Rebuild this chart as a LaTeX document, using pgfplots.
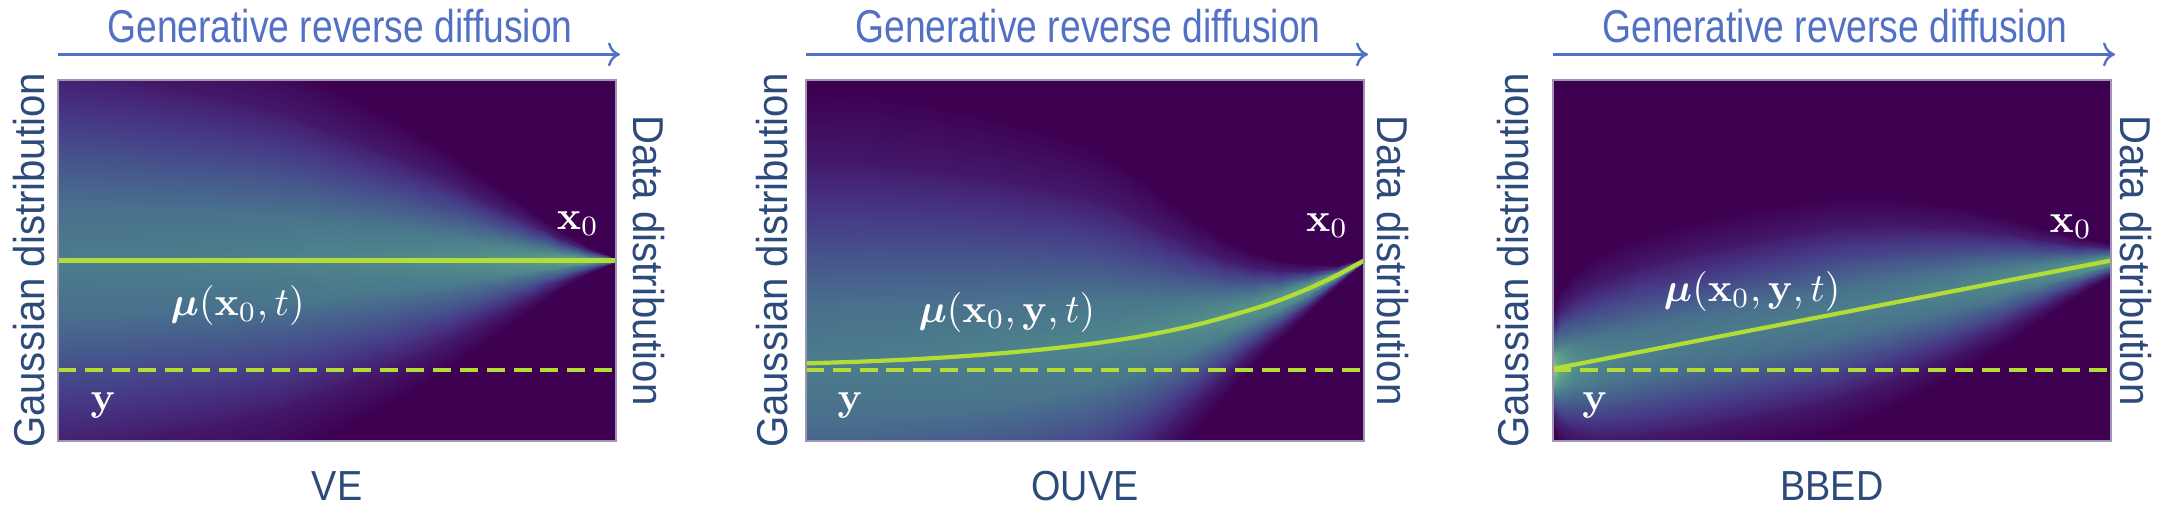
\documentclass[border=0pt]{standalone}
\usepackage[no-math]{fontspec}
\usepackage{amsmath}
\usepackage{bm}
\usepackage{pgfplots}
\usepackage{pgfplotstable}
\pgfplotsset{compat=1.18}
\usetikzlibrary{arrows.meta}
\newfontfamily\lsanstop[FakeStretch=0.81]{Liberation Sans}
\newfontfamily\lsansside[FakeStretch=0.93]{Liberation Sans}
\newfontfamily\lsansbot[FakeStretch=0.9]{Liberation Sans}
\definecolor{bgp}{RGB}{62,1,82}
\definecolor{ln}{RGB}{180,220,54}
\definecolor{tblue}{RGB}{82,113,196}
\definecolor{tdark}{RGB}{45,75,122}
\definecolor{frm}{RGB}{160,148,180}
\pgfplotsset{colormap={rs}{rgb255(0cm)=(62,1,82) rgb255(12cm)=(69,33,114) rgb255(25cm)=(70,58,134) rgb255(38cm)=(70,84,140) rgb255(50cm)=(72,106,141) rgb255(60cm)=(75,124,140) rgb255(70cm)=(84,146,138) rgb255(80cm)=(100,170,134) rgb255(90cm)=(140,200,110) rgb255(100cm)=(181,222,43)}}

% VE: columns of the density band (x, y, colour value)
\pgfplotstableread{
x y c
0 -0.216 0
0 -0.030 0.084
0 0.155 0.300
0 0.341 0.522
0 0.500 0.600
0 0.659 0.522
0 0.845 0.300
0 1.030 0.084
0 1.216 0
0.1 -0.189 0
0.1 -0.010 0.085
0.1 0.168 0.303
0.1 0.347 0.526
0.1 0.500 0.605
0.1 0.653 0.526
0.1 0.832 0.303
0.1 1.010 0.085
0.1 1.189 0
0.2 -0.148 0
0.2 0.020 0.085
0.2 0.188 0.305
0.2 0.356 0.531
0.2 0.500 0.610
0.2 0.644 0.531
0.2 0.812 0.305
0.2 0.980 0.085
0.2 1.148 0
0.3 -0.108 0
0.3 0.050 0.087
0.3 0.207 0.310
0.3 0.365 0.539
0.3 0.500 0.620
0.3 0.635 0.539
0.3 0.793 0.310
0.3 0.950 0.087
0.3 1.108 0
0.4 -0.054 0
0.4 0.090 0.088
0.4 0.233 0.315
0.4 0.377 0.548
0.4 0.500 0.630
0.4 0.623 0.548
0.4 0.767 0.315
0.4 0.910 0.088
0.4 1.054 0
0.5 0.027 0
0.5 0.150 0.090
0.5 0.272 0.323
0.5 0.395 0.561
0.5 0.500 0.645
0.5 0.605 0.561
0.5 0.728 0.323
0.5 0.850 0.090
0.5 0.973 0
0.55 0.068 0
0.55 0.180 0.091
0.55 0.292 0.325
0.55 0.404 0.566
0.55 0.500 0.650
0.55 0.596 0.566
0.55 0.708 0.325
0.55 0.820 0.091
0.55 0.932 0
0.6 0.108 0
0.6 0.210 0.092
0.6 0.311 0.330
0.6 0.413 0.574
0.6 0.500 0.660
0.6 0.587 0.574
0.6 0.689 0.330
0.6 0.790 0.092
0.6 0.892 0
0.65 0.156 0
0.65 0.245 0.094
0.65 0.334 0.335
0.65 0.423 0.583
0.65 0.500 0.670
0.65 0.577 0.583
0.65 0.666 0.335
0.65 0.755 0.094
0.65 0.844 0
0.7 0.203 0
0.7 0.280 0.096
0.7 0.357 0.343
0.7 0.434 0.596
0.7 0.500 0.685
0.7 0.566 0.596
0.7 0.643 0.343
0.7 0.720 0.096
0.7 0.797 0
0.75 0.257 0
0.75 0.320 0.098
0.75 0.383 0.350
0.75 0.446 0.609
0.75 0.500 0.700
0.75 0.554 0.609
0.75 0.617 0.350
0.75 0.680 0.098
0.75 0.743 0
0.8 0.311 0
0.8 0.360 0.101
0.8 0.409 0.360
0.8 0.458 0.626
0.8 0.500 0.720
0.8 0.542 0.626
0.8 0.591 0.360
0.8 0.640 0.101
0.8 0.689 0
0.85 0.365 0
0.85 0.400 0.104
0.85 0.435 0.373
0.85 0.470 0.648
0.85 0.500 0.745
0.85 0.530 0.648
0.85 0.565 0.373
0.85 0.600 0.104
0.85 0.635 0
0.9 0.419 0
0.9 0.440 0.109
0.9 0.461 0.390
0.9 0.482 0.679
0.9 0.500 0.780
0.9 0.518 0.679
0.9 0.539 0.390
0.9 0.560 0.109
0.9 0.581 0
0.95 0.462 0
0.95 0.472 0.116
0.95 0.482 0.415
0.95 0.492 0.722
0.95 0.500 0.830
0.95 0.508 0.722
0.95 0.518 0.415
0.95 0.528 0.116
0.95 0.538 0
1 0.495 0
1 0.496 0.126
1 0.497 0.450
1 0.499 0.783
1 0.500 0.900
1 0.501 0.783
1 0.503 0.450
1 0.504 0.126
1 0.505 0
}\vetab

% OUVE
\pgfplotstableread{
x y c
0 -0.541 0
0 -0.345 0.084
0 -0.149 0.300
0 0.047 0.522
0 0.215 0.600
0 0.383 0.522
0 0.579 0.300
0 0.775 0.084
0 0.971 0
0.1 -0.523 0
0.1 -0.330 0.085
0.1 -0.138 0.303
0.1 0.055 0.526
0.1 0.220 0.605
0.1 0.385 0.526
0.1 0.578 0.303
0.1 0.770 0.085
0.1 0.963 0
0.2 -0.489 0
0.2 -0.303 0.085
0.2 -0.118 0.305
0.2 0.068 0.531
0.2 0.227 0.610
0.2 0.386 0.531
0.2 0.572 0.305
0.2 0.757 0.085
0.2 0.943 0
0.3 -0.438 0
0.3 -0.263 0.087
0.3 -0.088 0.310
0.3 0.087 0.539
0.3 0.237 0.620
0.3 0.387 0.539
0.3 0.562 0.310
0.3 0.737 0.087
0.3 0.912 0
0.4 -0.371 0
0.4 -0.210 0.088
0.4 -0.049 0.315
0.4 0.112 0.548
0.4 0.250 0.630
0.4 0.388 0.548
0.4 0.549 0.315
0.4 0.710 0.088
0.4 0.871 0
0.5 -0.287 0
0.5 -0.143 0.090
0.5 0.000 0.323
0.5 0.144 0.561
0.5 0.267 0.645
0.5 0.390 0.561
0.5 0.534 0.323
0.5 0.677 0.090
0.5 0.821 0
0.55 -0.222 0
0.55 -0.092 0.091
0.55 0.037 0.325
0.55 0.167 0.566
0.55 0.278 0.650
0.55 0.389 0.566
0.55 0.519 0.325
0.55 0.648 0.091
0.55 0.778 0
0.6 -0.142 0
0.6 -0.030 0.092
0.6 0.082 0.330
0.6 0.194 0.574
0.6 0.290 0.660
0.6 0.386 0.574
0.6 0.498 0.330
0.6 0.610 0.092
0.6 0.722 0
0.65 -0.053 0
0.65 0.040 0.094
0.65 0.133 0.335
0.65 0.225 0.583
0.65 0.305 0.670
0.65 0.385 0.583
0.65 0.477 0.335
0.65 0.570 0.094
0.65 0.663 0
0.7 0.038 0
0.7 0.112 0.096
0.7 0.185 0.343
0.7 0.259 0.596
0.7 0.322 0.685
0.7 0.385 0.596
0.7 0.459 0.343
0.7 0.532 0.096
0.7 0.606 0
0.75 0.126 0
0.75 0.182 0.098
0.75 0.238 0.350
0.75 0.294 0.609
0.75 0.342 0.700
0.75 0.390 0.609
0.75 0.446 0.350
0.75 0.502 0.098
0.75 0.558 0
0.8 0.210 0
0.8 0.250 0.101
0.8 0.290 0.360
0.8 0.330 0.626
0.8 0.365 0.720
0.8 0.400 0.626
0.8 0.440 0.360
0.8 0.480 0.101
0.8 0.520 0
0.85 0.283 0
0.85 0.311 0.104
0.85 0.339 0.373
0.85 0.367 0.648
0.85 0.391 0.745
0.85 0.415 0.648
0.85 0.443 0.373
0.85 0.471 0.104
0.85 0.499 0
0.9 0.354 0
0.9 0.372 0.109
0.9 0.389 0.390
0.9 0.407 0.679
0.9 0.422 0.780
0.9 0.437 0.679
0.9 0.455 0.390
0.9 0.472 0.109
0.9 0.490 0
0.95 0.428 0
0.95 0.436 0.116
0.95 0.444 0.415
0.95 0.451 0.722
0.95 0.458 0.830
0.95 0.465 0.722
0.95 0.472 0.415
0.95 0.480 0.116
0.95 0.488 0
1 0.495 0
1 0.496 0.126
1 0.497 0.450
1 0.499 0.783
1 0.500 0.900
1 0.501 0.783
1 0.503 0.450
1 0.504 0.126
1 0.505 0
}\ouvetab

% BBED
\pgfplotstableread{
x y c
0 0.038 0
0 0.080 0.129
0 0.122 0.460
0 0.164 0.800
0 0.200 0.920
0 0.236 0.800
0 0.278 0.460
0 0.320 0.129
0 0.362 0
0.015 -0.012 0
0.015 0.045 0.112
0.015 0.101 0.400
0.015 0.157 0.696
0.015 0.205 0.800
0.015 0.253 0.696
0.015 0.309 0.400
0.015 0.365 0.112
0.015 0.421 0
0.04 -0.045 0
0.04 0.022 0.098
0.04 0.088 0.350
0.04 0.155 0.609
0.04 0.212 0.700
0.04 0.269 0.609
0.04 0.336 0.350
0.04 0.402 0.098
0.04 0.469 0
0.08 -0.066 0
0.08 0.009 0.091
0.08 0.084 0.325
0.08 0.159 0.566
0.08 0.224 0.650
0.08 0.289 0.566
0.08 0.364 0.325
0.08 0.439 0.091
0.08 0.514 0
0.15 -0.072 0
0.15 0.010 0.087
0.15 0.092 0.310
0.15 0.174 0.539
0.15 0.245 0.620
0.15 0.316 0.539
0.15 0.398 0.310
0.15 0.480 0.087
0.15 0.562 0
0.25 -0.056 0
0.25 0.030 0.085
0.25 0.116 0.303
0.25 0.201 0.526
0.25 0.275 0.605
0.25 0.349 0.526
0.25 0.434 0.303
0.25 0.520 0.085
0.25 0.606 0
0.4 -0.011 0
0.4 0.075 0.084
0.4 0.161 0.300
0.4 0.246 0.522
0.4 0.320 0.600
0.4 0.394 0.522
0.4 0.479 0.300
0.4 0.565 0.084
0.4 0.651 0
0.5 0.026 0
0.5 0.110 0.085
0.5 0.194 0.305
0.5 0.278 0.531
0.5 0.350 0.610
0.5 0.422 0.531
0.5 0.506 0.305
0.5 0.590 0.085
0.5 0.674 0
0.6 0.090 0
0.6 0.165 0.087
0.6 0.240 0.310
0.6 0.315 0.539
0.6 0.380 0.620
0.6 0.445 0.539
0.6 0.520 0.310
0.6 0.595 0.087
0.6 0.670 0
0.7 0.167 0
0.7 0.230 0.090
0.7 0.293 0.320
0.7 0.356 0.557
0.7 0.410 0.640
0.7 0.464 0.557
0.7 0.527 0.320
0.7 0.590 0.090
0.7 0.653 0
0.8 0.258 0
0.8 0.305 0.094
0.8 0.352 0.335
0.8 0.399 0.583
0.8 0.440 0.670
0.8 0.481 0.583
0.8 0.528 0.335
0.8 0.575 0.094
0.8 0.622 0
0.875 0.334 0
0.875 0.368 0.098
0.875 0.401 0.350
0.875 0.434 0.609
0.875 0.463 0.700
0.875 0.491 0.609
0.875 0.524 0.350
0.875 0.558 0.098
0.875 0.591 0
0.94 0.401 0
0.94 0.422 0.104
0.94 0.443 0.370
0.94 0.464 0.644
0.94 0.482 0.740
0.94 0.500 0.644
0.94 0.521 0.370
0.94 0.542 0.104
0.94 0.563 0
1 0.453 0
1 0.465 0.112
1 0.477 0.400
1 0.489 0.696
1 0.500 0.800
1 0.511 0.696
1 0.523 0.400
1 0.535 0.112
1 0.547 0
}\bbedtab

\pgfplotsset{panel/.style={at={(#1,18.75pt)}, anchor=south west, scale only axis,
  width=139.5pt, height=90.25pt, xmin=0, xmax=1, ymin=0, ymax=1, ticks=none,
  axis line style={draw=frm, line width=0.4pt}, axis on top,
  axis background/.style={fill=bgp}, colormap name=rs,
  point meta min=0, point meta max=1},
  heat/.style={surf, shader=interp, mesh/ordering=y varies, mesh/rows=9, point meta=explicit},
  mu/.style={ln, line width=1.05pt},
  ylev/.style={ln, line width=1.1pt, dash pattern=on 4.5pt off 2.2pt}}

\begin{document}
\begin{tikzpicture}[x=1pt,y=1pt]
\path[use as bounding box] (0,0) rectangle (540.5,129);
% ---------- VE ----------
\begin{axis}[panel=14.5pt]
\addplot[heat] table[x=x,y=y,meta=c] {\vetab};
\addplot[mu] coordinates {(0,0.5) (1,0.5)};
\addplot[ylev] coordinates {(0,0.197) (1,0.197)};
\node[text=white] at (axis cs:0.322,0.374) {$\bm{\mu}(\mathbf{x}_0,t)$};
\node[text=white] at (axis cs:0.932,0.601) {$\mathbf{x}_0$};
\node[text=white] at (axis cs:0.081,0.097) {$\mathbf{y}$};
\end{axis}
% ---------- OUVE ----------
\begin{axis}[panel=201.5pt]
\addplot[heat] table[x=x,y=y,meta=c] {\ouvetab};
\addplot[mu, smooth] coordinates {(0,0.215) (0.1,0.220) (0.2,0.227) (0.3,0.237) (0.4,0.250) (0.5,0.267) (0.6,0.290) (0.7,0.322) (0.8,0.365) (0.85,0.391) (0.9,0.422) (0.95,0.458) (1,0.5)};
\addplot[ylev] coordinates {(0,0.197) (1,0.197)};
\node[text=white] at (axis cs:0.36,0.357) {$\bm{\mu}(\mathbf{x}_0,\mathbf{y},t)$};
\node[text=white] at (axis cs:0.934,0.596) {$\mathbf{x}_0$};
\node[text=white] at (axis cs:0.079,0.097) {$\mathbf{y}$};
\end{axis}
% ---------- BBED ----------
\begin{axis}[panel=388.25pt]
\addplot[heat] table[x=x,y=y,meta=c] {\bbedtab};
\addplot[mu] coordinates {(0,0.2) (1,0.5)};
\addplot[ylev] coordinates {(0,0.197) (1,0.197)};
\node[text=white] at (axis cs:0.357,0.413) {$\bm{\mu}(\mathbf{x}_0,\mathbf{y},t)$};
\node[text=white] at (axis cs:0.928,0.593) {$\mathbf{x}_0$};
\node[text=white] at (axis cs:0.075,0.097) {$\mathbf{y}$};
\end{axis}
% ---------- outer labels ----------
\tikzset{lab/.style={inner sep=0pt}}
\foreach \L/\C/\R/\G/\D/\N in {14.5/84.25/154/11/158.4/VE, 201.5/271.25/341/196.75/344.25/OUVE, 388.25/458/527.75/382/530/BBED}{
  \node[lab, font=\lsanstop\fontsize{11.5}{13}\selectfont, text=tblue, anchor=base] at (\C+0.75,118.4) {Generative reverse diffusion};
  \draw[tblue, line width=0.6pt, -{To[length=3pt,width=6pt]}] (\L,115.4) -- (\R+1,115.4);
  \node[lab, font=\lsansbot\fontsize{10.5}{12}\selectfont, text=tdark, anchor=base] at (\C,4) {\N};
  \node[lab, font=\lsansside\fontsize{10.8}{12}\selectfont, text=tdark, anchor=base, rotate=90] at (\G,63.9) {Gaussian distribution};
  \node[lab, font=\lsansside\fontsize{10.8}{12}\selectfont, text=tdark, anchor=base, rotate=-90] at (\D,63.9) {Data distribution};
}
\end{tikzpicture}
\end{document}
